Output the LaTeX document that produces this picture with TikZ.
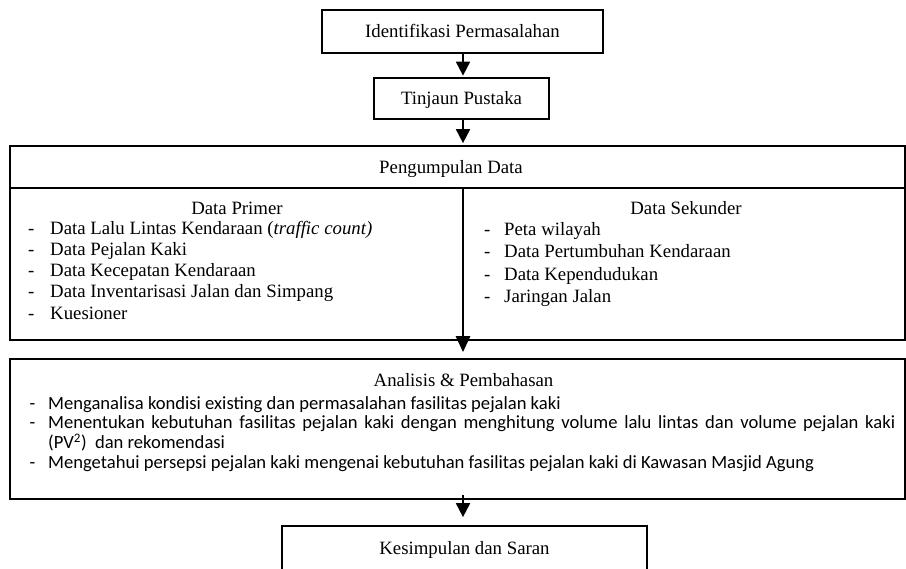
\documentclass[tikz,border=0pt]{standalone}
\usepackage{fontspec}
\setmainfont{Liberation Serif}
\newfontfamily\calib{Carlito}
\usetikzlibrary{arrows.meta}
\begin{document}
\begin{tikzpicture}[x=1pt,y=-1pt,
  box/.style={draw, line width=1.7pt, inner sep=0pt},
  conn/.style={line width=1.8pt, -{Triangle[width=14pt,length=14pt]}},
  ser/.style={font=\fontsize{18.8}{21}\selectfont, inner sep=0pt, text height=12.8pt, text depth=0pt},
  cal/.style={font=\calib\fontsize{18.6}{21}\selectfont, inner sep=0pt, text height=12.6pt, text depth=0pt, anchor=west},
  lit/.style={ser, anchor=west}
]
\useasboundingbox (0,0) rectangle (906,569);
\coordinate (spine) at (463,0);
\coordinate (hdr) at (0,188);

% boxes
\node[box, ser, minimum width=281pt, minimum height=43pt] (ident) at (462.5,31.5) {Identifikasi Permasalahan};
\node[box, ser, minimum width=175pt, minimum height=41pt] (tinjau) at (461.5,98.5) {Tinjaun Pustaka};
\node[box, minimum width=895pt, minimum height=194pt] (peng) at (457.5,243) {};
\node[box, minimum width=895pt, minimum height=140pt] (anal) at (457.5,429) {};
\node[box, minimum width=365pt, minimum height=74pt] (kes) at (464.5,563) {};

% header line of Pengumpulan Data
\draw[line width=1.7pt] (peng.west |- hdr) -- (peng.east |- hdr);

% texts
\node[ser] (pengt) at (451,167) {Pengumpulan Data};
\node[ser] (prim) at (237,208) {Data Primer};
\node[ser] (seku) at (686,208) {Data Sekunder};

\node[lit] (p1) at (28,228) {\makebox[22pt][l]{-}Data Lalu Lintas Kendaraan ({\itshape traffic count)}};
\node[lit] (p2) at (28,249.2) {\makebox[22pt][l]{-}Data Pejalan Kaki};
\node[lit] (p3) at (28,270.4) {\makebox[22pt][l]{-}Data Kecepatan Kendaraan};
\node[lit] (p4) at (28,291.6) {\makebox[22pt][l]{-}Data Inventarisasi Jalan dan Simpang};
\node[lit] (p5) at (28,312.8) {\makebox[22pt][l]{-}Kuesioner};

\node[lit] (s1) at (484,229) {\makebox[20pt][l]{-}Peta wilayah};
\node[lit] (s2) at (484,251.5) {\makebox[20pt][l]{-}Data Pertumbuhan Kendaraan};
\node[lit] (s3) at (484,274) {\makebox[20pt][l]{-}Data Kependudukan};
\node[lit] (s4) at (484,296.5) {\makebox[20pt][l]{-}Jaringan Jalan};

\node[ser] (analt) at (463.5,380) {Analisis \& Pembahasan};
\node[cal] (a1) at (29.5,403) {\makebox[18.5pt][l]{-}Menganalisa kondisi existing dan permasalahan fasilitas pejalan kaki};
\node[cal] (a2) at (29.5,422.5) {\makebox[18.5pt][l]{-}\makebox[847pt][s]{Menentukan kebutuhan fasilitas pejalan kaki dengan menghitung volume lalu lintas dan volume pejalan kaki}};
\node[cal] (a2b) at (48,442) {(PV\textsuperscript{2})\ \ dan rekomendasi};
\node[cal] (a3) at (29.5,462) {\makebox[18.5pt][l]{-}Mengetahui persepsi pejalan kaki mengenai kebutuhan fasilitas pejalan kaki di Kawasan Masjid Agung};

\node[ser] (kest) at (464.5,548) {Kesimpulan dan Saran};

% connectors
\draw[conn, shorten >=1.5pt] (ident.south -| spine) -- (tinjau.north -| spine);
\draw[conn, shorten >=2pt] (tinjau.south -| spine) -- (peng.north -| spine);
\draw[line width=2.6pt, -{Triangle[width=14pt,length=16pt]}, shorten >=6pt] (hdr -| spine) -- (anal.north -| spine);
\draw[conn, shorten <=-5pt, shorten >=8pt] (anal.south -| spine) -- (kes.north -| spine);
\end{tikzpicture}
\end{document}
